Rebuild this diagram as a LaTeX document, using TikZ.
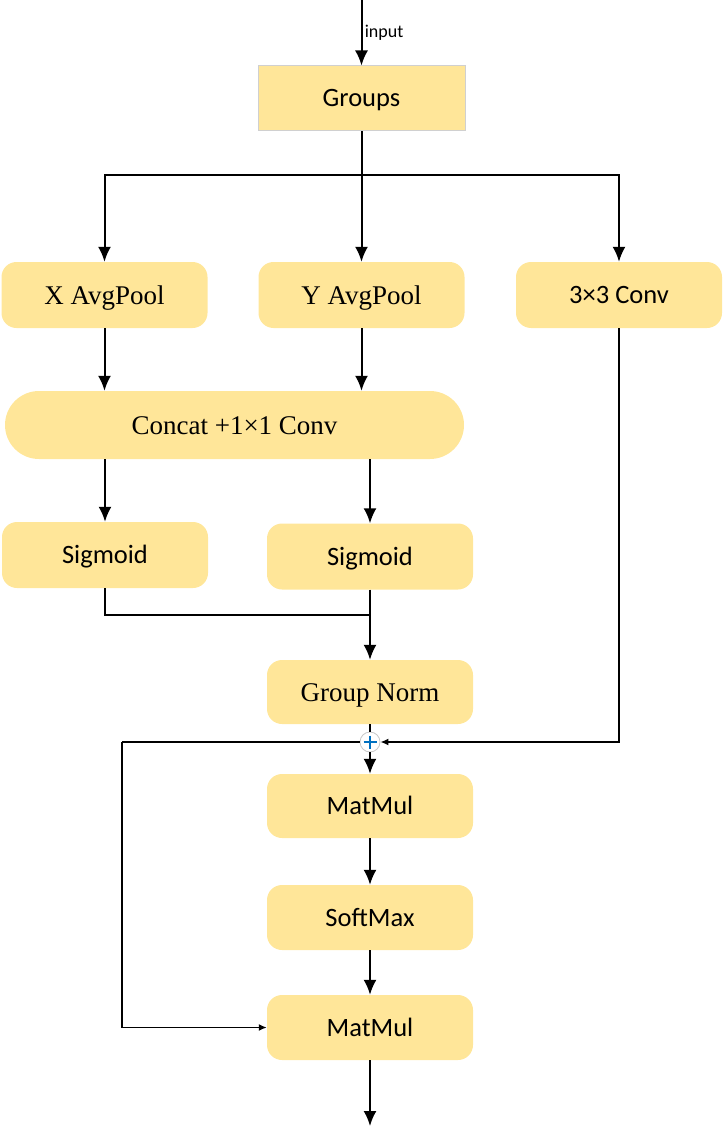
\documentclass[tikz,border=0pt]{standalone}
\usepackage{fontspec}
\setmainfont{Carlito}
\newfontfamily\serifcam{Liberation Serif}
\usetikzlibrary{arrows.meta}
\definecolor{boxfill}{HTML}{FFE699}
\definecolor{plusblue}{HTML}{0070C0}
\begin{document}
\begin{tikzpicture}[x=1pt,y=-1pt,
  box/.style={fill=boxfill,draw=none,rounded corners=15pt,minimum width=206pt,minimum height=66pt,inner sep=0pt,text height=17pt,text depth=0pt,font=\fontsize{26.5}{30}\selectfont},
  sbox/.style={box,text height=18pt,font=\serifcam\fontsize{27}{30}\selectfont},
  line/.style={line width=2pt},
  arr/.style={line,-{Latex[length=15pt,width=13pt]}},
  sarr/.style={line width=1.5pt,-{Latex[length=8pt,width=7pt]}}
  ]
\useasboundingbox (0,0) rectangle (723,1126);
\node[fill=boxfill,draw={rgb,255:red,208;green,208;blue,208},line width=1pt,minimum width=207pt,minimum height=65pt,inner sep=0pt,text height=17pt,text depth=0pt,font=\fontsize{26.5}{30}\selectfont] (groups) at (361.5,98.5) {Groups};
\coordinate (in) at (361.5,0);
\draw[arr] (in) -- node[right,font=\fontsize{18}{20}\selectfont,xshift=-1pt] {input} (groups.north);

\node[sbox] (xap) at (104.5,295) {X AvgPool};
\node[sbox] (yap) at (361.5,295) {Y AvgPool};
\node[box] (conv3) at (619,295) {3×3 Conv};
\node[sbox,minimum width=459pt,minimum height=68pt,rounded corners=34pt] (concat) at (234.5,425) {Concat +1×1 Conv};
\node[box] (sig1) at (105,555) {Sigmoid};
\node[box] (sig2) at (370,556.5) {Sigmoid};
\node[sbox,minimum height=64pt] (gn) at (370,692) {Group Norm};
\node[box,minimum height=64pt] (mm1) at (370,806) {MatMul};
\node[box,minimum height=65pt] (sm) at (370,917.5) {SoftMax};
\node[box,minimum height=65pt] (mm2) at (370,1027.5) {MatMul};
\node[circle,draw={rgb,255:red,200;green,200;blue,200},fill=white,line width=0.8pt,minimum size=20pt,inner sep=0pt] (plus) at (370,742) {};
\draw[plusblue,line width=2.2pt] (plus.center) ++(-6.5,0) -- ++(13,0) (plus.center) ++(0,-6.5) -- ++(0,13);

\coordinate (split) at (361.5,175);
\coordinate (out) at (370,1126);
\coordinate (loop) at (122,742);
\draw[line] (groups.south) -- (split);
\draw[arr] (split) -| (xap.north);
\draw[arr] (split) -- (yap.north);
\draw[arr] (split) -| (conv3.north);
\draw[arr] (xap.south) -- (concat.north -| xap);
\draw[arr] (yap.south) -- (concat.north -| yap);
\draw[arr] (concat.south -| sig1) -- (sig1.north);
\draw[arr] (concat.south -| sig2) -- (sig2.north);
\draw[line] (sig1.south) |- (370,615);
\draw[arr] (sig2.south) -- (gn.north);
\draw[line] (gn.south) -- (plus.north);
\draw[sarr] (conv3.south) |- (plus.east);
\draw[arr] (plus.south) -- (mm1.north);
\draw[line width=1.5pt] (plus.west) -- (loop);
\draw[sarr] (loop) |- (mm2.west);
\draw[arr] (mm1.south) -- (sm.north);
\draw[arr] (sm.south) -- (mm2.north);
\draw[arr] (mm2.south) -- (out);
\end{tikzpicture}
\end{document}
